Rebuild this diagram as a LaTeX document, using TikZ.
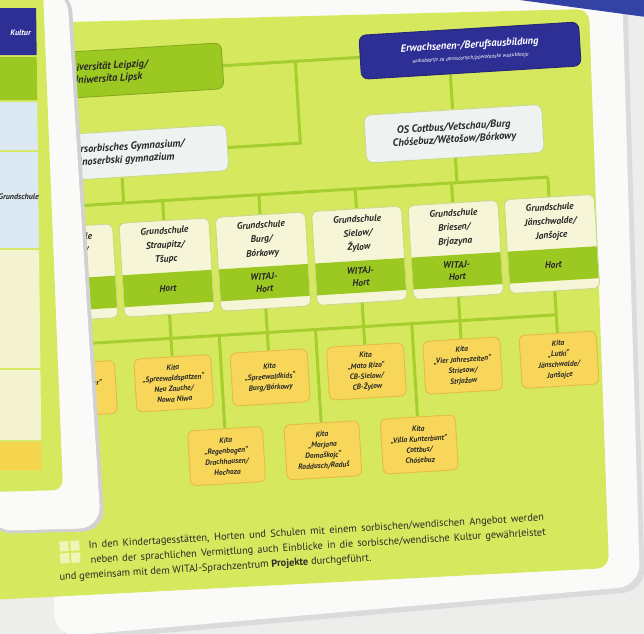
\documentclass[tikz,border=0pt]{standalone}
\usepackage{fontspec}
\setmainfont{PT Sans}
\usetikzlibrary{calc}
\definecolor{bgc}{HTML}{EDEEEC}
\definecolor{cardw}{HTML}{FAFBF8}
\definecolor{limec}{HTML}{D6E85E}
\definecolor{lineg}{HTML}{A5CE2E}
\definecolor{boxg}{HTML}{9CC921}
\definecolor{navyc}{HTML}{2E2F94}
\definecolor{cream}{HTML}{F6F5D8}
\definecolor{paleb}{HTML}{EEF3F2}
\definecolor{kitay}{HTML}{F7D65A}
\definecolor{kitae}{HTML}{E3BC48}
\definecolor{txt}{HTML}{2A2A28}
\definecolor{wedgec}{HTML}{3443A3}
\definecolor{ltblue}{HTML}{DDE9F2}
\definecolor{pyel}{HTML}{F3F4CF}
\definecolor{gold}{HTML}{F6D54E}
\definecolor{gsedge}{HTML}{C9D98A}
\pgfdeclarelayer{back}
\pgfdeclarelayer{conns}
\pgfdeclarelayer{front}
\pgfsetlayers{back,conns,main,front}
\tikzset{
  conn/.style={draw=lineg, line width=3pt},
  bigbox/.style={rounded corners=7pt, line width=0.9pt, align=center, text=txt,
    inner sep=2pt, font=\bfseries\itshape\fontsize{10.5}{12.5}\selectfont},
  unibox/.style={bigbox, fill=boxg, draw=boxg!85!black, minimum width=232pt, minimum height=46pt},
  erwbox/.style={bigbox, fill=navyc, draw=navyc!80!black, text=white, minimum width=220pt, minimum height=44pt},
  palebox/.style={bigbox, fill=paleb, draw=gsedge, minimum height=46pt},
  gsframe/.style={rounded corners=6pt, fill=cream, draw=gsedge, line width=0.9pt,
    minimum width=90pt, minimum height=94pt, inner sep=0pt},
  gshead/.style={align=center, text=txt, inner sep=0pt, font=\bfseries\itshape\fontsize{9.5}{14}\selectfont},
  gsband/.style={align=center, text=txt, inner sep=0pt, font=\bfseries\itshape\fontsize{9.5}{12}\selectfont},
  kita/.style={rounded corners=6pt, fill=kitay, draw=kitae, line width=0.9pt, align=center, text=txt,
    minimum width=77pt, minimum height=53pt, inner sep=1pt, font=\bfseries\itshape\fontsize{7.6}{10.6}\selectfont},
  foot/.style={text=txt, inner sep=0pt, font=\fontsize{10.4}{12}\selectfont},
  lctext/.style={inner sep=0pt, font=\bfseries\itshape\fontsize{8}{10}\selectfont}
}
\newcommand\gsb[4]{%
  \node[gsframe] (#1) at (#2,257) {};
  \fill[boxg] ({#2-44.5},262) rectangle ({#2+44.5},294);
  \node[gshead] (#1h) at (#2,235) {#3};
  \node[gsband] (#1b) at (#2,278) {#4};
}
\newcommand\trow[3]{\fill[#1] (-10,#2) -- ({36+0.012*#2},#2) -- ({36+0.012*#3},#3) -- (-10,#3) -- cycle;}
\begin{document}
\begin{tikzpicture}[x=1pt,y=-1pt]
\useasboundingbox (0,0) rectangle (644,633);
\begin{pgfonlayer}{back}
  \fill[bgc] (-5,-5) rectangle (650,640);
  \fill[black!14, rounded corners=22pt] (45,-12) -- (627,-12) -- (645,591) -- (60,642) -- cycle;
  \fill[cardw, rounded corners=22pt] (40,-12) -- (622,-12) -- (640,586) -- (55,637) -- cycle;
  \fill[limec, rounded corners=12pt] (-10,24) -- (589,9) -- (609,568) -- (-10,600) -- cycle;
  \fill[wedgec] (505,-2) -- (646,-2) -- (646,17) -- cycle;
\end{pgfonlayer}

\begin{scope}[rotate around={3.5:(340,300)}, transform shape]
  % top level
  \node[unibox] (uni) at (121,59) {Universität Leipzig/\\Uniwersita Lipsk};
  \node[erwbox] (erw) at (485,59) {Erwachsenen-/Berufsausbildung\\[-1pt]
     {\mdseries\itshape\fontsize{5.5}{6.5}\selectfont wukubłanje za dorosćonych/pówołańske wukubłanje}};
  \node[palebox, minimum width=214pt] (gym) at (130,141) {Niedersorbisches Gymnasium/\\Dolnoserbski gymnazium};
  \node[palebox, minimum width=178pt, minimum height=48pt] (os) at (464,141) {OS Cottbus/Vetschau/Burg\\Chóśebuz/Wětošow/Bórkowy};

  % Grundschulen
  \gsb{gs1}{72.5}{Grundschule\\Vetschau/\\Wětošow}{WITAJ-\\Hort}
  \gsb{gs2}{169}{Grundschule\\Straupitz/\\Tšupc}{Hort}
  \gsb{gs3}{265.5}{Grundschule\\Burg/\\Bórkowy}{WITAJ-\\Hort}
  \gsb{gs4}{362}{Grundschule\\Sielow/\\Žylow}{WITAJ-\\Hort}
  \gsb{gs5}{458.5}{Grundschule\\Briesen/\\Brjazyna}{WITAJ-\\Hort}
  \gsb{gs6}{555}{Grundschule\\Jänschwalde/\\Janšojce}{Hort}

  % Kitas row 1
  \node[kita] (k1) at (72.5,373) {Kita\\„Tausendfüßler“\\Vetschau/\\Wětošow};
  \node[kita] (k2) at (169,373) {Kita\\„Spreewaldspatzen“\\Neu Zauche/\\Nowa Niwa};
  \node[kita] (k3) at (265.5,373) {Kita\\„Spreewaldkids“\\Burg/Bórkowy};
  \node[kita] (k4) at (362,373) {Kita\\„Mato Rizo“\\CB-Sielow/\\CB-Žylow};
  \node[kita] (k5) at (458.5,373) {Kita\\„Vier Jahreszeiten“\\Striesow/\\Strjažow};
  \node[kita] (k6) at (555,373) {Kita\\„Lutki“\\Jänschwalde/\\Janšojce};
  % Kitas row 2
  \node[kita, minimum width=75pt, minimum height=55pt] (kG) at (217.25,449) {Kita\\„Regenbogen“\\Drachhausen/\\Hochoza};
  \node[kita, minimum width=75pt, minimum height=55pt] (kH) at (313.75,449) {Kita\\„Marjana\\Domaškojc“\\Raddusch/Raduš};
  \node[kita, minimum width=75pt, minimum height=55pt] (kI) at (410.25,449) {Kita\\„Villa Kunterbunt“\\Cottbus/\\Chóśebuz};

  % footer
  \fill[white!55!limec] (45,524) rectangle (54,534) (56,524) rectangle (65,534)
                        (45,536) rectangle (54,546) (56,536) rectangle (65,546);
  \node[foot, anchor=west] (f1) at (74,530) {\makebox[456pt][s]{In den Kindertagesstätten, Horten und Schulen mit einem sorbischen/wendischen Angebot werden}};
  \node[foot, anchor=west] (f2) at (75,545) {\makebox[456pt][s]{neben der sprachlichen Vermittlung auch Einblicke in die sorbische/wendische Kultur gewährleistet}};
  \node[foot, anchor=west] (f3) at (43,560) {und gemeinsam mit dem WITAJ-Sprachzentrum \textbf{Projekte} durchgeführt.};

  % connectors
  \coordinate (j1) at (310,59);
  \coordinate (j2) at (310,141);
  \coordinate (jo) at (464,59);
  \coordinate (gbus1) at (72.5,190);
  \coordinate (gbus2) at (169,190);
  \coordinate (gbus3) at (265.5,190);
  \coordinate (gbus4) at (362,190);
  \coordinate (gbus5) at (458.5,190);
  \coordinate (gbus6) at (555,190);
  \coordinate (gbg) at (130,190);
  \coordinate (gbo) at (464,190);
  \coordinate (kbus1) at (72.5,328);
  \coordinate (kbus6) at (555,328);
  \coordinate (kbusG) at (217.25,328);
  \coordinate (kbusH) at (313.75,328);
  \coordinate (kbusI) at (410.25,328);
  \begin{pgfonlayer}{conns}
    \draw[conn] (uni) -- (erw);
    \draw[conn] (gym) -- (j2) -- (j1);
    \draw[conn] (jo) -- (os);
    \draw[conn] (gbus1) -- (gbus6);
    \draw[conn] (gym) -- (gbg);
    \draw[conn] (os) -- (gbo);
    \foreach \i in {1,...,6} {
      \draw[conn] (gbus\i) -- (gs\i);
      \draw[conn] (gs\i) -- (k\i);
    }
    \draw[conn] (kbus1) -- (kbus6);
    \draw[conn] (kbusG) -- (kG);
    \draw[conn] (kbusH) -- (kH);
    \draw[conn] (kbusI) -- (kI);
  \end{pgfonlayer}
\end{scope}

% left overlapping card
\begin{pgfonlayer}{front}
  \fill[black!18, rounded corners=22pt] (-10,-10) -- (71,-10) -- (105,531) -- (-10,534) -- cycle;
  \fill[cardw, rounded corners=22pt] (-10,-10) -- (67,-10) -- (101,528) -- (-10,531) -- cycle;
  \fill[limec, rounded corners=10pt] (-10,-10) -- (43,-10) -- (63,490) -- (-10,492) -- cycle;
  \trow{navyc}{8}{55}
  \trow{boxg}{57}{100}
  \trow{ltblue}{102}{150}
  \trow{ltblue}{152}{248}
  \trow{pyel}{250}{368}
  \trow{pyel}{370}{440}
  \trow{gold}{442}{470}
  \node[lctext, text=white, anchor=east] (lc1) at (31,33) {Kultur};
  \node[lctext, text=txt, anchor=east] (lc2) at (39,197) {Grundschule};
\end{pgfonlayer}
\end{tikzpicture}
\end{document}
